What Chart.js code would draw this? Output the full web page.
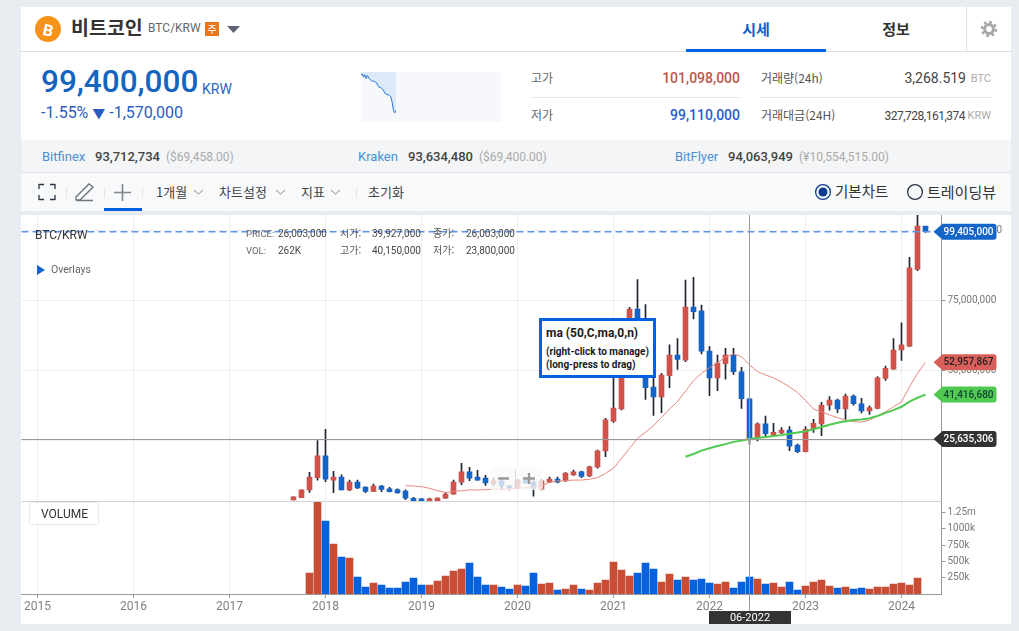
<!DOCTYPE html>
<html lang="ko">
<head>
<meta charset="UTF-8">
<title>비트코인 BTC/KRW</title>
<script src="https://cdn.jsdelivr.net/npm/chart.js"></script>
<style>
    html, body { margin: 0; padding: 0; }
    body {
        width: 1019px; height: 631px; overflow: hidden; position: relative;
        background: #e9ecf1; color: #333;
        font-family: Roboto, 'Noto Sans CJK KR', sans-serif;
    }
    .abs, .t { position: absolute; }
    .t { white-space: nowrap; line-height: 1; }
    .r { transform: translateX(-100%); }
    .c { transform: translateX(-50%); }
    .kr { font-family: 'Noto Sans CJK KR', Roboto, sans-serif; }
    #chart { position: absolute; left: 21px; top: 215px; }
    #spark { position: absolute; left: 361px; top: 72px; }
</style>
</head>
<body>
    <!-- panels -->
    <div class="abs" style="left:21px;top:7px;width:990px;height:133px;background:#fff"></div>
    <div class="abs" style="left:21px;top:51px;width:990px;height:1px;background:#dcdfe3"></div>
    <div class="abs" style="left:22px;top:140px;width:989px;height:32px;background:#f3f5f7"></div>
    <div class="abs" style="left:21px;top:172px;width:990px;height:1px;background:#dcdfe3"></div>
    <div class="abs" style="left:21px;top:173px;width:990px;height:38px;background:#f8f9fb"></div>
    <div class="abs" style="left:21px;top:215px;width:990px;height:409px;background:#fff"></div>

    <!-- title row -->
    <div class="abs" style="left:35px;top:16px;width:26px;height:26px;border-radius:50%;background:#f7931a"></div>
    <div class="t" style="left:43px;top:21px;font:bold 16px Roboto;color:#fff;transform:rotate(12deg)">B</div>
    <div class="t kr" style="left:71px;top:17px;font-size:19.500px;font-weight:700;color:#333">비트코인</div>
    <div class="t" style="left:148px;top:22px;font-size:12px;color:#666">BTC/KRW</div>
    <div class="abs kr" style="left:205px;top:22px;width:14px;height:14px;background:#e8751a;color:#fff;font-size:10px;line-height:14px;text-align:center">주</div>
    <svg class="abs" style="left:227px;top:26px" width="13" height="7"><path d="M0 0H13L6.5 7Z" fill="#5c6370"/></svg>
    <div class="t kr c" style="left:756px;top:21px;font-size:15px;font-weight:700;color:#0d5fd1">시세</div>
    <div class="t kr c" style="left:896px;top:21px;font-size:15px;font-weight:700;color:#333">정보</div>
    <div class="abs" style="left:686px;top:49px;width:140px;height:3px;background:#0060df"></div>
    <div class="abs" style="left:966px;top:7px;width:1px;height:44px;background:#dcdfe3"></div>
    <svg class="abs" style="left:980px;top:20px" width="18" height="18">
        <circle cx="9" cy="9" r="4.4" fill="none" stroke="#a6a6a6" stroke-width="3"/>
        <circle cx="9" cy="9" r="7" fill="none" stroke="#a6a6a6" stroke-width="2.4" stroke-dasharray="2.8 2.7"/>
    </svg>

    <!-- current price -->
    <div class="t" style="left:41px;top:66px;font-size:31.500px;font-weight:500;color:#1565c0">99,400,000</div>
    <div class="t" style="left:202px;top:82px;font-size:14px;color:#2a66c4">KRW</div>
    <div class="t" style="left:41px;top:105px;font-size:16px;color:#2a5cc0">-1.55% <span style="font-size:13px">▼</span> -1,570,000</div>
    <div class="abs" style="left:361px;top:72px;width:140px;height:50px;background:#f6f8fc"></div>
    <canvas id="spark" width="35" height="50"></canvas>

    <!-- high, low, volume -->
    <div class="t kr" style="left:531px;top:72px;font-size:12px;color:#666">고가</div>
    <div class="t r" style="left:740px;top:71px;font-size:14px;font-weight:500;color:#c0544b">101,098,000</div>
    <div class="t kr" style="left:761px;top:72px;font-size:12px;color:#555">거래량(24h)</div>
    <div class="t r" style="left:966px;top:71px;font-size:14px;color:#444">3,268.519</div>
    <div class="t r" style="left:991px;top:73px;font-size:11px;color:#aaa">BTC</div>
    <div class="abs" style="left:531px;top:97px;width:209px;height:1px;background:#e3e5e8"></div>
    <div class="abs" style="left:761px;top:97px;width:230px;height:1px;background:#e3e5e8"></div>
    <div class="t kr" style="left:531px;top:109px;font-size:12px;color:#666">저가</div>
    <div class="t r" style="left:740px;top:108px;font-size:14px;font-weight:500;color:#2a5cc8">99,110,000</div>
    <div class="t kr" style="left:761px;top:109px;font-size:12px;color:#555">거래대금(24H)</div>
    <div class="t r" style="left:965px;top:110px;font-size:12px;letter-spacing:-.5px;color:#444">327,728,161,374</div>
    <div class="t r" style="left:991px;top:110px;font-size:11px;color:#aaa">KRW</div>

    <!-- exchange prices -->
    <div class="t" style="left:42px;top:150px;font-size:13px;color:#4a90d0">Bitfinex</div>
    <div class="t" style="left:95px;top:150px;font-size:13px;font-weight:500;color:#444">93,712,734</div>
    <div class="t" style="left:166px;top:151px;font-size:12px;color:#aaa">($69,458.00)</div>
    <div class="t" style="left:358px;top:150px;font-size:13px;color:#4a90d0">Kraken</div>
    <div class="t" style="left:408px;top:150px;font-size:13px;font-weight:500;color:#444">93,634,480</div>
    <div class="t" style="left:479px;top:151px;font-size:12px;color:#aaa">($69,400.00)</div>
    <div class="t" style="left:675px;top:150px;font-size:13px;color:#4a90d0">BitFlyer</div>
    <div class="t" style="left:728px;top:150px;font-size:13px;font-weight:500;color:#444">94,063,949</div>
    <div class="t" style="left:799px;top:151px;font-size:12px;color:#aaa">(¥10,554,515.00)</div>

    <!-- toolbar -->
    <svg class="abs" style="left:21px;top:173px" width="340" height="38" fill="none">
        <path d="M18 11.500h5M29 11.500h5M34 11v5M18 11v5M18 22v5M34 22v5M18 26.500h5M29 26.500h5" stroke="#2b3442" stroke-width="1.3"/>
        <path d="M55 24l13-13 4 3-13 13h-4zM56 27.500h16" stroke="#6e7680" stroke-width="1.4"/>
        <path d="M93 19.500h17M101.500 11v17" stroke="#7e858e" stroke-width="1.6"/>
        <path d="M45.500 14v11M83.500 14v11M121.500 14v11M335.500 14v11" stroke="#e3e5e8"/>
        <path d="M173 17l4.500 4 4.500-4M255 17l4.500 4 4.500-4M310 17l4.500 4 4.500-4" stroke="#888"/>
    </svg>
    <div class="abs" style="left:104px;top:208px;width:38px;height:3px;background:#0060df"></div>
    <div class="t kr" style="left:156px;top:185px;font-size:13px;color:#444">1개월</div>
    <div class="t kr" style="left:219px;top:185px;font-size:13px;color:#444">차트설정</div>
    <div class="t kr" style="left:301px;top:185px;font-size:13px;color:#444">지표</div>
    <div class="t kr" style="left:368px;top:185px;font-size:13px;color:#444">초기화</div>
    <svg class="abs" style="left:814px;top:183px" width="18" height="18" fill="none">
        <circle cx="9" cy="9" r="7.400" stroke="#0a3d91" stroke-width="1.300"/>
        <circle cx="9" cy="9" r="4.500" fill="#0a3d91"/>
    </svg>
    <svg class="abs" style="left:906px;top:183px" width="18" height="18" fill="none">
        <circle cx="9" cy="9" r="7.400" stroke="#2b3442" stroke-width="1.300"/>
    </svg>
    <div class="t kr" style="left:835px;top:184px;font-size:14.500px;color:#333">기본차트</div>
    <div class="t kr" style="left:927px;top:184px;font-size:15px;color:#333">트레이딩뷰</div>

    <canvas id="chart" width="990" height="409"></canvas>

    <!-- chart captions -->
    <div class="t" style="left:35px;top:229px;font-size:12px;color:#333">BTC/KRW</div>
    <svg class="abs" style="left:37px;top:265px" width="8" height="10"><path d="M0 0L8 5L0 10Z" fill="#1565c8"/></svg>
    <div class="t" style="left:51px;top:265px;font-size:10.500px;color:#666">Overlays</div>
    <div class="t" style="left:246px;top:229px;font-size:9.500px;color:#666">PRICE:</div>
    <div class="t" style="left:278px;top:229px;font-size:10px;color:#444">26,003,000</div>
    <div class="t kr" style="left:340px;top:228px;font-size:10px;color:#555">시가:</div>
    <div class="t" style="left:372px;top:229px;font-size:10px;color:#444">39,927,000</div>
    <div class="t kr" style="left:433px;top:228px;font-size:10px;color:#555">종가:</div>
    <div class="t" style="left:466px;top:229px;font-size:10px;color:#444">26,003,000</div>
    <div class="t" style="left:246px;top:246px;font-size:9.500px;color:#666">VOL:</div>
    <div class="t" style="left:278px;top:246px;font-size:10px;color:#444">262K</div>
    <div class="t kr" style="left:340px;top:245px;font-size:10px;color:#555">고가:</div>
    <div class="t" style="left:372px;top:246px;font-size:10px;color:#444">40,150,000</div>
    <div class="t kr" style="left:433px;top:245px;font-size:10px;color:#555">저가:</div>
    <div class="t" style="left:466px;top:246px;font-size:10px;color:#444">23,800,000</div>

    <!-- zoom buttons -->
    <div class="abs" style="left:490px;top:468px;width:53px;height:22px;background:rgba(248,248,248,.78);border-radius:2px"></div>
    <div class="abs" style="left:515px;top:470px;width:1px;height:18px;background:rgba(210,210,210,.7)"></div>
    <svg class="abs" style="left:490px;top:468px" width="53" height="22"><path d="M8 10.500h11M33 10.500h12M39 5v11" stroke="#999" stroke-width="2.400" fill="none"/></svg>

    <!-- overlay hint -->
    <div class="abs" style="left:539px;top:318px;width:111px;height:54px;border:3px solid #0060df;background:#fff"></div>
    <div class="t" style="left:546px;top:327px;font-size:12px;font-weight:700;color:#1a1a1a">ma (50,C,ma,0,n)</div>
    <div class="t" style="left:546px;top:347px;font-size:10px;font-weight:700;color:#1a1a1a">(right-click to manage)</div>
    <div class="t" style="left:546px;top:360px;font-size:10px;font-weight:700;color:#1a1a1a">(long-press to drag)</div>

    <div class="abs" style="left:30px;top:503px;width:68px;height:21px;background:#fff;box-shadow:0 0 2px rgba(0,0,0,.25)"></div>
    <div class="t" style="left:41px;top:508px;font-size:12px;color:#333">VOLUME</div>

<script>
    // axis months, 2014-11 to 2024-06
    const months = [
        '2014-11', '2014-12',
        '2015-01', '2015-02', '2015-03', '2015-04', '2015-05', '2015-06', '2015-07', '2015-08', '2015-09', '2015-10', '2015-11', '2015-12',
        '2016-01', '2016-02', '2016-03', '2016-04', '2016-05', '2016-06', '2016-07', '2016-08', '2016-09', '2016-10', '2016-11', '2016-12',
        '2017-01', '2017-02', '2017-03', '2017-04', '2017-05', '2017-06', '2017-07', '2017-08', '2017-09', '2017-10', '2017-11', '2017-12',
        '2018-01', '2018-02', '2018-03', '2018-04', '2018-05', '2018-06', '2018-07', '2018-08', '2018-09', '2018-10', '2018-11', '2018-12',
        '2019-01', '2019-02', '2019-03', '2019-04', '2019-05', '2019-06', '2019-07', '2019-08', '2019-09', '2019-10', '2019-11', '2019-12',
        '2020-01', '2020-02', '2020-03', '2020-04', '2020-05', '2020-06', '2020-07', '2020-08', '2020-09', '2020-10', '2020-11', '2020-12',
        '2021-01', '2021-02', '2021-03', '2021-04', '2021-05', '2021-06', '2021-07', '2021-08', '2021-09', '2021-10', '2021-11', '2021-12',
        '2022-01', '2022-02', '2022-03', '2022-04', '2022-05', '2022-06', '2022-07', '2022-08', '2022-09', '2022-10', '2022-11', '2022-12',
        '2023-01', '2023-02', '2023-03', '2023-04', '2023-05', '2023-06', '2023-07', '2023-08', '2023-09', '2023-10', '2023-11', '2023-12',
        '2024-01', '2024-02', '2024-03', '2024-04', '2024-05', '2024-06'
    ];

    // OHLC in million KRW, one row per year, first candle is 2017-09
    const candleStart = months.indexOf('2017-09');
    const opens = [
        3.9, 4.7, 7.5, 11.9,
        19.6, 11.0, 12.1, 7.5, 10.3, 8.5, 7.0, 8.9, 7.9, 7.6, 7.1, 4.5,
        4.3, 3.4, 3.6, 4.6, 6.0, 10.3, 13.9, 12.1, 11.7, 9.6, 10.7, 8.9,
        8.1, 11.0, 10.3, 7.8, 10.3, 11.4, 10.7, 12.8, 13.9, 12.5, 15.7, 21.4,
        32.0, 36.3, 54.0, 71.9, 62.0, 44.1, 40.6, 48.2, 55.5, 53.7, 72.6, 71.2,
        56.9, 47.4, 52.4, 55.5, 49.5, 39.927, 26.1, 31.0, 27.0, 27.8, 28.8, 23.5,
        21.1, 29.2, 31.0, 37.7, 39.5, 36.3, 40.9, 38.1, 35.6, 36.5, 47.2, 50.5,
        57.3, 58.7, 86.0, 101.4
    ];
    const closes = [
        5.0, 7.5, 12.1, 19.6,
        11.3, 12.1, 7.5, 10.3, 8.2, 7.0, 8.9, 7.7, 6.9, 6.4, 4.6, 3.6,
        3.4, 4.3, 4.6, 6.0, 10.3, 13.9, 11.7, 11.0, 10.0, 10.7, 8.9, 8.1,
        11.0, 10.0, 8.1, 10.7, 11.4, 10.3, 13.5, 13.9, 12.3, 15.7, 21.4, 32.4,
        36.6, 54.0, 71.9, 62.0, 43.9, 40.6, 48.4, 55.5, 53.9, 72.6, 70.9, 56.9,
        47.4, 52.6, 55.5, 49.6, 40.0, 26.003, 31.0, 27.5, 28.0, 28.8, 23.1, 21.1,
        29.1, 31.2, 37.7, 39.5, 36.3, 40.9, 38.2, 35.6, 36.8, 47.4, 50.8, 57.3,
        59.1, 86.5, 101.4, 99.405
    ];
    const highs = [
        5.0, 7.5, 13.8, 25.1,
        29.1, 14.1, 12.9, 11.0, 11.0, 8.6, 9.6, 9.1, 8.4, 7.9, 7.5, 4.9,
        4.5, 4.6, 4.7, 6.5, 11.0, 17.0, 15.5, 14.5, 12.7, 11.8, 11.0, 9.1,
        11.3, 12.1, 10.7, 11.3, 12.1, 12.1, 13.7, 14.6, 14.2, 16.0, 21.7, 33.0,
        47.7, 60.0, 72.5, 82.4, 73.5, 48.0, 49.0, 59.1, 61.4, 82.2, 83.2, 73.3,
        58.5, 55.5, 57.9, 57.9, 51.1, 40.15, 31.4, 33.8, 31.2, 29.7, 30.0, 23.8,
        30.0, 32.6, 38.7, 40.7, 39.8, 41.6, 41.3, 40.1, 37.4, 47.8, 51.6, 61.4,
        67.0, 90.3, 106.0, 101.098
    ];
    const lows = [
        3.9, 4.7, 6.6, 11.0,
        10.4, 6.5, 7.5, 7.2, 7.9, 6.5, 6.9, 6.9, 6.8, 6.3, 4.0, 3.5,
        3.3, 3.4, 3.5, 4.5, 6.0, 9.4, 10.8, 11.0, 9.1, 8.9, 7.7, 7.5,
        7.9, 9.7, 5.3, 7.5, 10.1, 10.0, 10.5, 12.7, 11.9, 12.2, 15.2, 19.3,
        31.5, 36.0, 50.0, 50.0, 39.7, 34.0, 35.0, 43.9, 50.4, 53.1, 68.4, 55.9,
        41.0, 42.8, 46.9, 48.6, 36.5, 23.8, 24.9, 26.2, 26.6, 27.5, 21.5, 20.8,
        21.0, 28.0, 26.8, 35.9, 35.0, 32.6, 37.7, 34.9, 34.4, 36.3, 46.5, 50.4,
        53.6, 58.5, 85.5, 99.11
    ];

    // moving averages, million KRW
    const shortMaStart = months.indexOf('2018-11');
    const shortMa = [
        9.0, 8.9,
        8.66, 8.07, 7.2, 6.6, 7.0, 7.2, 7.5, 7.5, 7.6, 7.7, 7.8, 7.95,
        8.07, 8.3, 8.54, 9.0, 10.2, 10.7, 10.8, 11.0, 11.0, 11.3, 11.9, 13.4,
        15.2, 18.7, 22.3, 25.9, 28.0, 30.4, 33.3, 36.3, 38.9, 42.7, 46.4, 49.0,
        51.0, 52.8, 54.7, 55.9, 54.9, 52.0, 49.6, 48.4, 47.4, 45.9, 44.2, 42.2,
        39.3, 36.3, 35.3, 34.2, 33.2, 32.4, 31.8, 31.6, 32.4, 33.8, 35.3, 37.1,
        38.9, 44.2, 49.0, 52.957867
    ];
    const longMaStart = months.indexOf('2021-10');
    const longMa = [
        19.3, 20.3, 21.5,
        22.3, 23.1, 23.8, 24.6, 25.1, 25.635306, 26.0, 26.3, 26.7, 27.0, 27.5, 27.9,
        28.4, 29.1, 29.9, 30.7, 31.4, 31.9, 32.4, 32.6, 33.0, 33.8, 34.9, 35.9,
        37.1, 38.9, 40.3, 41.41668
    ];

    // monthly volume on the k axis, first bar is 2017-11
    const volumeStart = months.indexOf('2017-11');
    const volumes = [
        323, 1420,
        1123, 769, 569, 554, 262, 108, 169, 138, 92, 92, 185, 246,
        138, 138, 200, 277, 354, 385, 477, 262, 138, 138, 108, 77,
        138, 123, 323, 154, 169, 62, 77, 138, 77, 62, 169, 215,
        492, 369, 277, 323, 477, 385, 185, 308, 215, 262, 215, 231,
        169, 154, 185, 92, 185, 262, 231, 154, 169, 108, 185, 62,
        123, 185, 215, 123, 92, 108, 77, 92, 77, 108, 108, 154,
        169, 138, 246
    ];
    const volumeUp = [
        1, 1,
        0, 1, 0, 1, 0, 0, 1, 0, 0, 0, 0, 0,
        0, 1, 1, 1, 1, 1, 0, 0, 0, 1, 0, 0,
        1, 0, 0, 1, 1, 0, 1, 1, 0, 1, 1, 1,
        1, 1, 1, 0, 0, 0, 1, 1, 0, 1, 0, 0,
        0, 1, 1, 0, 0, 0, 1, 0, 1, 1, 0, 0,
        1, 1, 1, 1, 0, 1, 0, 0, 1, 1, 1, 1,
        1, 1, 1
    ];

    const priceTicks = [25, 50, 75, 100];
    const volumeTicks = [250, 500, 750, 1000, 1250];
    const volumeTickLabels = ['250k', '500k', '750k', '1000k', '1.25m'];

    const lastPrice = 99.405;
    const crosshairPrice = 25.635306;
    const crosshairMonth = '2022-06';
    const crosshairLabel = '06-2022';

    // intraday strip beside the price
    const sparkTimes = ['09', '', '', '', '', '', '', '', '', '', '', '', '', '', '', '', '', '', '', '', '', '', '', '', '', '', '', '10'];
    const sparkPrices = [
        100.98, 101.03, 100.87, 101.0, 100.8, 100.96, 100.83, 100.77, 100.7, 100.67,
        100.68, 100.63, 100.6, 100.47, 100.37, 100.37, 100.32, 100.24, 100.14, 100.04,
        100.02, 100.0, 99.97, 99.9, 99.65, 99.24, 99.11, 99.24
    ];

    const RED = '#d0524a', BLUE = '#1565c8', VOL_RED = '#c94c34', VOL_BLUE = '#0561e0';
    const FONT = { family: 'Roboto', size: 10 };

    const krw = v => Math.round(v * 1e6).toLocaleString('en-US');

    const candleColors = opens.map((o, i) => closes[i] >= o ? RED : BLUE);
    const series = (arr, start) => arr.map((y, i) => ({ x: months[start + i], y }));

    // fixed axis box, no room reserved for overhanging labels
    const fitRightAxis = s => { s.width = 69.5; s.paddingTop = 0; s.paddingBottom = 0; };

    // price tags on the right axis and the crosshair
    const overlayPlugin = {
        id: 'overlay',
        afterDraw(chart) {
            const ctx = chart.ctx, area = chart.chartArea;
            const yP = chart.scales.yPrice, yV = chart.scales.yVol, xS = chart.scales.x;
            ctx.save();

            // separator of the two panels
            ctx.strokeStyle = '#cfd1d4';
            ctx.beginPath();
            ctx.moveTo(area.left, Math.round(yP.bottom) - 0.5);
            ctx.lineTo(area.right, Math.round(yP.bottom) - 0.5);
            ctx.stroke();

            // crosshair
            const cx = xS.getPixelForValue(months.indexOf(crosshairMonth));
            const cy = Math.round(yP.getPixelForValue(crosshairPrice)) + 0.5;
            ctx.strokeStyle = '#999';
            ctx.beginPath();
            ctx.moveTo(area.left, cy);
            ctx.lineTo(area.right, cy);
            ctx.moveTo(cx, area.top);
            ctx.lineTo(cx, yV.bottom + 17);
            ctx.stroke();

            const tag = (value, text, bg, fg) => {
                const y = yP.getPixelForValue(value), h = 16, x0 = area.right + 1, x1 = x0 + 54;
                ctx.fillStyle = bg;
                ctx.beginPath();
                ctx.moveTo(x0 - 9, y);
                ctx.lineTo(x0, y - h / 2);
                ctx.lineTo(x1 - 3, y - h / 2);
                ctx.quadraticCurveTo(x1, y - h / 2, x1, y - h / 2 + 3);
                ctx.lineTo(x1, y + h / 2 - 3);
                ctx.quadraticCurveTo(x1, y + h / 2, x1 - 3, y + h / 2);
                ctx.lineTo(x0, y + h / 2);
                ctx.closePath();
                ctx.fill();
                ctx.fillStyle = fg;
                ctx.font = '500 10px Roboto';
                ctx.textAlign = 'right';
                ctx.textBaseline = 'middle';
                ctx.fillText(text, x1 - 3, y + 0.5);
            };
            tag(lastPrice, krw(lastPrice), BLUE, '#fff');
            tag(shortMa[shortMa.length - 1], krw(shortMa[shortMa.length - 1]), '#d9605a', '#222');
            tag(longMa[longMa.length - 1], krw(longMa[longMa.length - 1]), '#4fc94f', '#143');
            tag(crosshairPrice, krw(crosshairPrice), '#333', '#fff');

            // month label under the crosshair
            const top = yV.bottom + 17, bw = 82, bh = 13;
            ctx.fillStyle = '#333';
            ctx.fillRect(Math.floor(cx - bw / 2) + 1, top, bw, bh);
            ctx.fillStyle = '#fff';
            ctx.font = '11px Roboto';
            ctx.textAlign = 'center';
            ctx.fillText(crosshairLabel, cx + 0.5, top + bh / 2 + 0.5);
            ctx.restore();
        }
    };

    new Chart(document.getElementById('chart'), {
        type: 'bar',
        data: {
            labels: months,
            datasets: [
                {
                    // wicks
                    data: lows.map((l, i) => ({ x: months[candleStart + i], y: [l, highs[i]] })),
                    yAxisID: 'yPrice', backgroundColor: '#1c2430',
                    barThickness: 1, grouped: false, order: 5
                },
                {
                    data: opens.map((o, i) => ({ x: months[candleStart + i], y: [o, closes[i]] })),
                    yAxisID: 'yPrice', backgroundColor: candleColors,
                    barThickness: 5, grouped: false, order: 4
                },
                {
                    data: series(volumes, volumeStart),
                    yAxisID: 'yVol', backgroundColor: volumeUp.map(u => u ? VOL_RED : VOL_BLUE),
                    barThickness: 7, grouped: false, order: 4
                },
                {
                    type: 'line', data: series(shortMa, shortMaStart), yAxisID: 'yPrice',
                    borderColor: '#e8877f', borderWidth: 1, pointRadius: 0, tension: 0, order: 2
                },
                {
                    type: 'line', data: series(longMa, longMaStart), yAxisID: 'yPrice',
                    borderColor: '#4fc94f', borderWidth: 2, pointRadius: 0, tension: 0, order: 1
                },
                {
                    // last price guide
                    type: 'line',
                    data: [{ x: months[0], y: lastPrice }, { x: months[months.length - 1], y: lastPrice }],
                    yAxisID: 'yPrice', borderColor: '#5f95ea', borderWidth: 1.5, borderDash: [7, 4],
                    pointRadius: 0, order: 0
                }
            ]
        },
        options: {
            responsive: false,
            animation: false,
            layout: { autoPadding: false, padding: { left: 0.5, top: 0, right: 0, bottom: 0 } },
            plugins: { legend: { display: false }, tooltip: { enabled: false } },
            scales: {
                x: {
                    type: 'category',
                    offset: false,
                    grid: { offset: false, color: '#eeeff1', tickColor: '#999', tickLength: 4 },
                    border: { color: '#999' },
                    afterBuildTicks: s => { s.ticks = s.ticks.filter(t => months[t.value].endsWith('-01')); },
                    afterFit: s => { s.height = 30; s.paddingLeft = 0; s.paddingRight = 0; },
                    ticks: {
                        autoSkip: false, maxRotation: 0, padding: 2,
                        color: '#808080', font: { family: 'Roboto', size: 12 },
                        callback: v => months[v].slice(0, 4)
                    }
                },
                yPrice: {
                    position: 'right', stack: 'panels', stackWeight: 287,
                    min: 3.2, max: 105.34,
                    grid: { color: '#eeeff1', tickColor: '#999', tickLength: 4 },
                    border: { color: '#999' },
                    afterBuildTicks: s => { s.ticks = priceTicks.map(value => ({ value })); },
                    afterFit: fitRightAxis,
                    ticks: { autoSkip: false, padding: 2, color: '#777', font: FONT, callback: v => krw(v) }
                },
                yVol: {
                    position: 'right', stack: 'panels', stackWeight: 92,
                    min: 0, max: 1415,
                    grid: { drawOnChartArea: false, tickColor: '#999', tickLength: 4 },
                    border: { color: '#999' },
                    afterBuildTicks: s => { s.ticks = volumeTicks.map(value => ({ value })); },
                    afterFit: fitRightAxis,
                    ticks: {
                        autoSkip: false, padding: 2, color: '#777', font: FONT,
                        callback: v => volumeTickLabels[volumeTicks.indexOf(v)]
                    }
                }
            }
        },
        plugins: [overlayPlugin]
    });

    new Chart(document.getElementById('spark'), {
        type: 'line',
        data: {
            labels: sparkTimes,
            datasets: [{
                data: sparkPrices, borderColor: '#2a72d8', borderWidth: 1, pointRadius: 0,
                fill: 'end', backgroundColor: '#dce9f8'
            }]
        },
        options: {
            responsive: false,
            animation: false,
            layout: { autoPadding: false },
            plugins: { legend: { display: false }, tooltip: { enabled: false } },
            scales: {
                x: { display: false, offset: false },
                y: { display: false, min: 98.66, max: 101.13 }
            }
        }
    });
</script>
</body>
</html>
